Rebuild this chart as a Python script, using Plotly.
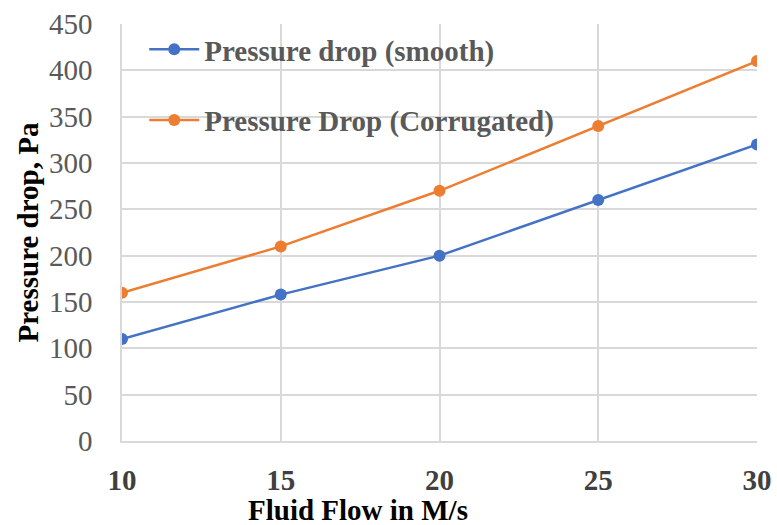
import plotly.graph_objects as go

flow = [10, 15, 20, 25, 30]
smooth = [110, 158, 200, 260, 320]
corrugated = [160, 210, 270, 340, 410]
y_ticks = [0, 50, 100, 150, 200, 250, 300, 350, 400, 450]

SERIF = "Liberation Serif, Times New Roman, serif"
BLUE = "#4472C4"
ORANGE = "#ED7D31"

fig = go.Figure()
fig.add_trace(go.Scatter(
    x=flow, y=smooth, mode="lines+markers", name="Pressure drop (smooth)",
    line=dict(color=BLUE, width=2.5), marker=dict(color=BLUE, size=12),
    legendgroup="a"))
fig.add_trace(go.Scatter(
    x=flow, y=corrugated, mode="lines+markers", name="Pressure Drop (Corrugated)",
    line=dict(color=ORANGE, width=2.5), marker=dict(color=ORANGE, size=12),
    legendgroup="b"))

fig.update_layout(
    width=777, height=525,
    margin=dict(l=122, r=20, t=24, b=84, autoexpand=False),
    paper_bgcolor="white", plot_bgcolor="white",
    font=dict(family=SERIF, color="#595959"),
    showlegend=True,
    legend=dict(
        x=0.035, y=1.0, xanchor="left", yanchor="top",
        bgcolor="rgba(255,255,255,0)",
        font=dict(family=SERIF, size=29, color="#595959", weight="bold"),
        tracegroupgap=30, traceorder="grouped", itemwidth=50,
    ),
    xaxis=dict(
        range=[10, 30], tickvals=flow, ticktext=[str(v) for v in flow],
        showgrid=True, gridcolor="#d9d9d9", gridwidth=1.5,
        showline=True, linecolor="#d9d9d9", linewidth=1.5, mirror=False,
        zeroline=False, ticks="", ticklabelstandoff=12, automargin=False,
        tickfont=dict(family=SERIF, size=29, color="#404040", weight="bold"),
    ),
    yaxis=dict(
        range=[0, 450], tickvals=y_ticks,
        showgrid=True, gridcolor="#d9d9d9", gridwidth=1.5,
        showline=True, linecolor="#d9d9d9", linewidth=1.5,
        zeroline=False, ticks="", ticklabelstandoff=22, automargin=False,
        tickfont=dict(family=SERIF, size=29, color="#595959"),
    ),
)

fig.add_annotation(
    text="Fluid Flow in M/s", xref="paper", yref="paper",
    x=0.372, y=0, yshift=-69, showarrow=False, yanchor="middle",
    font=dict(family=SERIF, size=29, color="black", weight="bold"),
)
fig.add_annotation(
    text="Pressure drop, Pa", xref="paper", yref="paper",
    x=0, xshift=-95, y=0.5, showarrow=False, textangle=-90,
    xanchor="center", yanchor="middle",
    font=dict(family=SERIF, size=29, color="black", weight="bold"),
)

fig.write_html("out.html")
